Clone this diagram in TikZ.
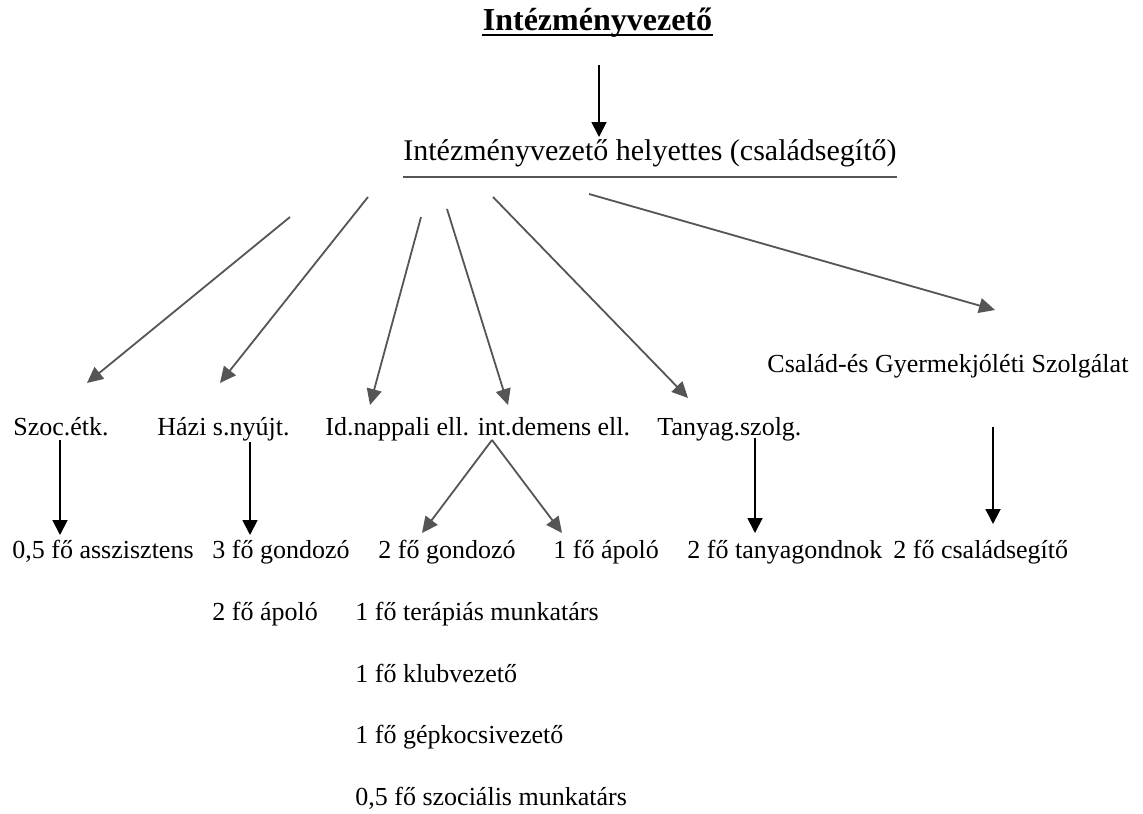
\documentclass[tikz,border=0pt]{standalone}
\usepackage{fontspec}
\setmainfont{Liberation Serif}
\usetikzlibrary{arrows.meta,calc}
\definecolor{arrgray}{HTML}{555555}
\begin{document}
\begin{tikzpicture}[x=0.5pt,y=-0.5pt,
  lbl/.style={anchor=base west,inner sep=0pt,font=\fontsize{13}{15}\selectfont},
  grayarrow/.style={draw=arrgray,line width=0.9pt,-{Triangle[length=8pt,width=7.5pt]},arrgray},
  blackarrow/.style={draw=black,line width=0.9pt,-{Triangle[length=7.5pt,width=7.5pt]}},
  uline/.style={line width=1pt}]
\useasboundingbox[fill=white] (0,0) rectangle (1143,813);

% top
\node[anchor=base,inner sep=0pt,font=\fontsize{16}{18}\selectfont\bfseries] (title) at (597.5,31) {Intézményvezető};
\draw[uline,line width=1.2pt] ($(title.base west)+(0,4)$) -- ($(title.base east)+(0,4)$);
\node[anchor=base west,inner sep=0pt,font=\fontsize{15}{17}\selectfont] (sub) at (403,160) {Intézményvezető helyettes (családsegítő)};
\draw[uline,draw=arrgray] ($(sub.base west)+(0,17)$) -- ($(sub.base east)+(0,17)$);
\coordinate (t1) at (599,65);
\coordinate (t2) at (599,137);
\draw[blackarrow] (t1) -- (t2);

% first level
\node[lbl] (szoc) at (13,435) {Szoc.étk.};
\node[lbl] (hazi) at (157,435) {Házi s.nyújt.};
\node[lbl] (idn) at (325,435) {Id.nappali ell. int.demens ell.};
\node[lbl] (tany) at (657,435) {Tanyag.szolg.};
\node[lbl] (csal) at (767,372) {Család-és Gyermekjóléti Szolgálat};

\coordinate (sa) at (290,217); \coordinate (ea) at (87,383);
\coordinate (sb) at (368,197); \coordinate (eb) at (220,383);
\coordinate (sc) at (421,217); \coordinate (ec) at (370,405);
\coordinate (sd) at (447,209); \coordinate (ed) at (508,405);
\coordinate (se) at (493,197); \coordinate (ee) at (688,398);
\coordinate (sf) at (589,194); \coordinate (ef) at (995,310);
\draw[grayarrow] (sa) -- (ea);
\draw[grayarrow] (sb) -- (eb);
\draw[grayarrow] (sc) -- (ec);
\draw[grayarrow] (sd) -- (ed);
\draw[grayarrow] (se) -- (ee);
\draw[grayarrow] (sf) -- (ef);

% second level
\node[lbl] (asz) at (12,558) {0,5 fő asszisztens};
\node[lbl] (gond3) at (212,558) {3 fő gondozó};
\node[lbl] (gond2) at (378,558) {2 fő gondozó};
\node[lbl] (apo1) at (553,558) {1 fő ápoló};
\node[lbl] (tgond) at (687,558) {2 fő tanyagondnok};
\node[lbl] (csseg) at (893,558) {2 fő családsegítő};
\node[lbl] (apo2) at (212,620) {2 fő ápoló};
\node[lbl] (ter) at (355,620) {1 fő terápiás munkatárs};
\node[lbl] (klub) at (355,682) {1 fő klubvezető};
\node[lbl] (gep) at (355,743) {1 fő gépkocsivezető};
\node[lbl] (szm) at (355,805) {0,5 fő szociális munkatárs};

\coordinate (v1s) at (60,440);  \coordinate (v1e) at (60,535);
\coordinate (v2s) at (250,442); \coordinate (v2e) at (250,535);
\coordinate (v3s) at (755,438); \coordinate (v3e) at (755,533);
\coordinate (v4s) at (993,427); \coordinate (v4e) at (993,524);
\draw[blackarrow] (v1s) -- (v1e);
\draw[blackarrow] (v2s) -- (v2e);
\draw[blackarrow] (v3s) -- (v3e);
\draw[blackarrow] (v4s) -- (v4e);

\coordinate (dm) at (492,440);
\coordinate (dl) at (422,533);
\coordinate (dr) at (562,533);
\draw[grayarrow] (dm) -- (dl);
\draw[grayarrow] (dm) -- (dr);
\end{tikzpicture}
\end{document}
